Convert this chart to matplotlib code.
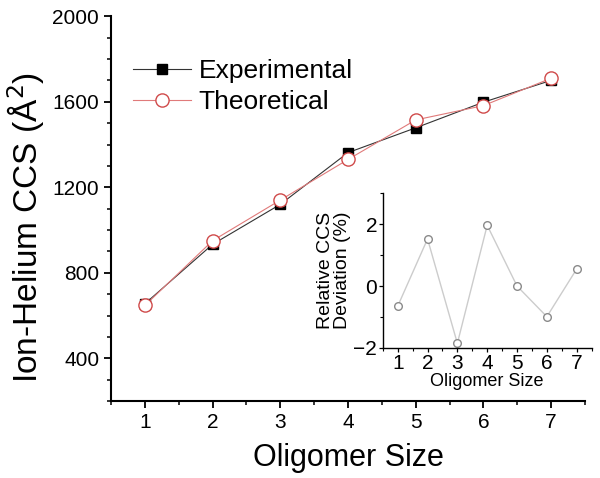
import matplotlib
matplotlib.use('Agg')
import matplotlib.pyplot as plt
from matplotlib.ticker import MultipleLocator

plt.rcParams['font.family'] = ['Liberation Sans', 'DejaVu Sans']

oligomer = [1, 2, 3, 4, 5, 6, 7]
ccs_exp = [655, 933, 1120, 1362, 1478, 1598, 1700]
ccs_theo = [647, 950, 1140, 1330, 1515, 1582, 1710]
deviation = [-0.65, 1.52, -1.85, 1.96, 0.0, -0.99, 0.55]

fig = plt.figure(figsize=(6, 4.78), dpi=100)
ax = fig.add_axes([0.185, 0.161, 0.79, 0.805])

ax.plot(oligomer, ccs_exp, color='#333333', lw=0.8, marker='s', ms=7,
        mfc='black', mec='black', label='Experimental')
ax.plot(oligomer, ccs_theo, color='#e07a7a', lw=0.8, marker='o', ms=9.5,
        mfc='white', mec='#d04a4a', mew=1.0, label='Theoretical')

ax.set_xlim(0.5, 7.5)
ax.set_ylim(200, 2000)
ax.xaxis.set_major_locator(MultipleLocator(1))
ax.xaxis.set_minor_locator(MultipleLocator(0.5))
ax.yaxis.set_major_locator(MultipleLocator(400))
ax.yaxis.set_minor_locator(MultipleLocator(100))
for s in ['top', 'right']:
    ax.spines[s].set_visible(False)
for s in ['left', 'bottom']:
    ax.spines[s].set_linewidth(1.5)
ax.tick_params(which='major', direction='out', length=5, width=1.3, labelsize=15)
ax.tick_params(which='minor', direction='out', length=3, width=1.1)
ax.set_xlabel('Oligomer Size', fontsize=22, labelpad=8)
ax.set_ylabel('Ion-Helium CCS (Å$^2$)', fontsize=24)
ax.yaxis.set_label_coords(-0.135, 0.45)

ax.legend(loc='upper left', bbox_to_anchor=(0.046, 0.888), frameon=False,
          fontsize=19, handlelength=2.2, handletextpad=0.3, borderpad=0,
          borderaxespad=0, labelspacing=0.25)

ins = fig.add_axes([0.638, 0.272, 0.348, 0.324])
ins.patch.set_alpha(0)
ins.plot(oligomer, deviation, color='#cccccc', lw=1.0, marker='o', ms=5.5,
         mfc='white', mec='#8a8a8a', mew=1.0)
ins.set_xlim(0.5, 7.5)
ins.set_ylim(-2, 3)
ins.xaxis.set_major_locator(MultipleLocator(1))
ins.xaxis.set_minor_locator(MultipleLocator(0.5))
ins.yaxis.set_major_locator(MultipleLocator(2))
ins.yaxis.set_minor_locator(MultipleLocator(1))
for s in ['top', 'right']:
    ins.spines[s].set_visible(False)
for s in ['left', 'bottom']:
    ins.spines[s].set_linewidth(1.0)
ins.tick_params(which='major', direction='out', length=3, width=0.9,
                labelsize=15, pad=1)
ins.tick_params(which='minor', direction='out', length=2, width=0.8)
ins.set_xlabel('Oligomer Size', fontsize=13, labelpad=0)
ins.set_ylabel('Relative CCS\nDeviation (%)', fontsize=14, labelpad=2,
               linespacing=1.0)

fig.savefig('out.png', dpi=100)
